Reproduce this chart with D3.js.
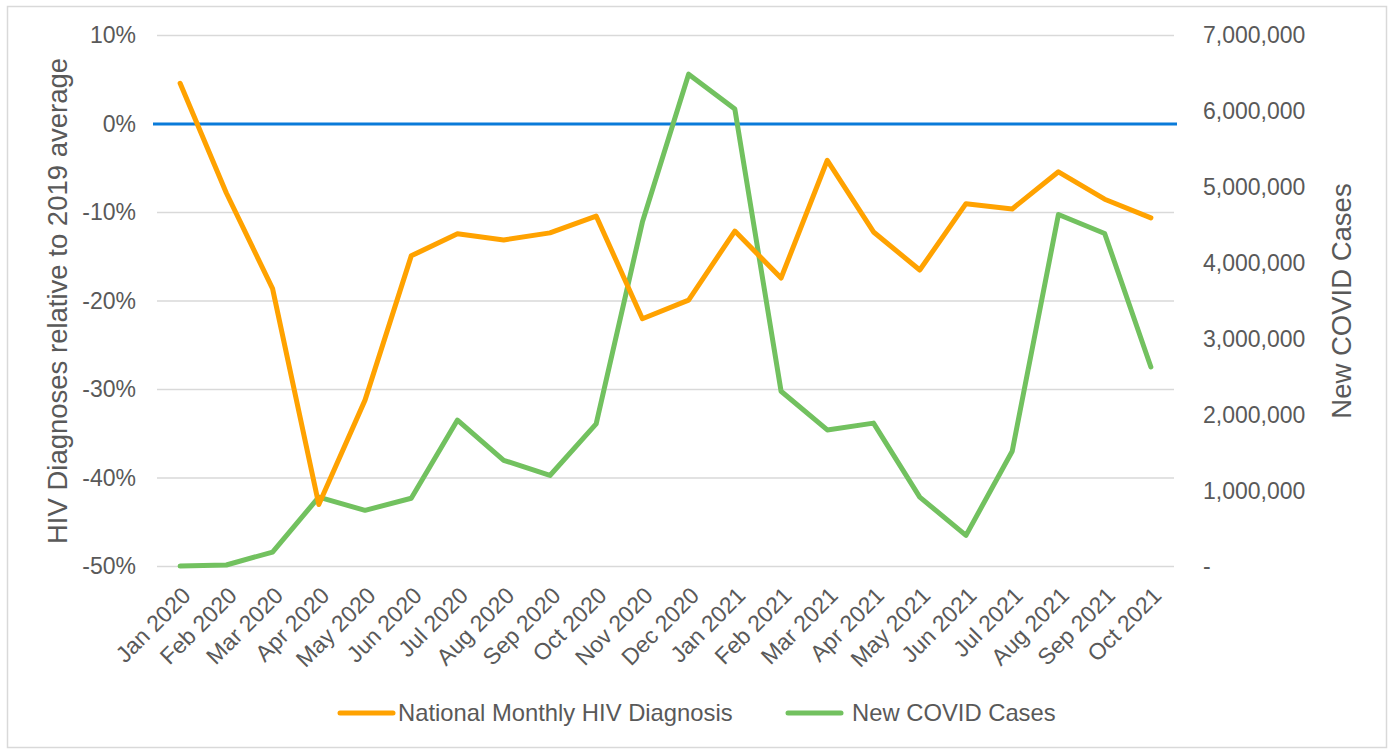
<!DOCTYPE html>
<html>
<head>
<meta charset="utf-8">
<script src="https://cdn.jsdelivr.net/npm/d3@7"></script>
<style>
  body { margin: 0; background: #fff; }
  svg { display: block; font-family: "Liberation Sans", Arial, sans-serif; }
</style>
</head>
<body>
<svg id="chart" width="1388" height="749"></svg>
<script>
var months = ['Jan 2020', 'Feb 2020', 'Mar 2020', 'Apr 2020', 'May 2020', 'Jun 2020',
    'Jul 2020', 'Aug 2020', 'Sep 2020', 'Oct 2020', 'Nov 2020', 'Dec 2020',
    'Jan 2021', 'Feb 2021', 'Mar 2021', 'Apr 2021', 'May 2021', 'Jun 2021',
    'Jul 2021', 'Aug 2021', 'Sep 2021', 'Oct 2021'];

// HIV diagnoses relative to 2019 average (fraction)
var hivChange = [0.046, -0.078, -0.186, -0.430, -0.312, -0.149,
    -0.124, -0.131, -0.123, -0.104, -0.220, -0.199,
    -0.121, -0.174, -0.041, -0.122, -0.165, -0.090,
    -0.096, -0.054, -0.085, -0.106];

// new COVID cases per month
var covidCases = [5000, 20000, 190000, 915000, 740000, 900000,
    1930000, 1400000, 1200000, 1880000, 4540000, 6490000,
    6030000, 2310000, 1800000, 1890000, 915000, 410000,
    1520000, 4640000, 4390000, 2630000];

var leftTicks = [0.1, 0, -0.1, -0.2, -0.3, -0.4, -0.5];
var rightTicks = [0, 1e6, 2e6, 3e6, 4e6, 5e6, 6e6, 7e6];

var seriesNames = ['National Monthly HIV Diagnosis', 'New COVID Cases'];

var svg = d3.select('#chart');
var textColor = '#595959';
var gridColor = '#d9d9d9';
var orange = '#ffa200';
var green = '#72c15f';
var blue = '#0a7bd9';

svg.append('rect')
    .attr('x', 7.5).attr('y', 6.5)
    .attr('width', 1379).attr('height', 741)
    .attr('fill', 'none')
    .attr('stroke', gridColor)
    .attr('stroke-width', 1.5);

var x = d3.scalePoint()
    .domain(months)
    .range([157, 1174])
    .padding(0.5);

var yLeft = d3.scaleLinear()
    .domain([-0.5, 0.1])
    .range([566.5, 35.5]);

var yRight = d3.scaleLinear()
    .domain([0, 7e6])
    .range([566.5, 35.5]);

// gridlines
svg.append('g')
    .selectAll('line')
    .data(leftTicks.filter(d => d !== 0))
    .enter()
    .append('line')
    .attr('x1', 157).attr('x2', 1174)
    .attr('y1', d => yLeft(d)).attr('y2', d => yLeft(d))
    .attr('stroke', gridColor)
    .attr('stroke-width', 1.5);

// zero line
svg.append('line')
    .attr('x1', 153).attr('x2', 1177)
    .attr('y1', yLeft(0)).attr('y2', yLeft(0))
    .attr('stroke', blue)
    .attr('stroke-width', 3);

// left axis
var leftAxis = d3.axisLeft(yLeft)
    .tickValues(leftTicks)
    .tickFormat(d3.format('.0%'))
    .tickSize(0)
    .tickPadding(0);

var gl = svg.append('g')
    .attr('transform', 'translate(136,0)')
    .call(leftAxis);
gl.select('.domain').remove();
gl.selectAll('text')
    .attr('fill', textColor)
    .attr('font-size', 23)
    .attr('font-family', '"Liberation Sans", Arial, sans-serif')
    .text(d => d3.format('.0%')(d).replace('−', '-'));

// right axis
var rightAxis = d3.axisRight(yRight)
    .tickValues(rightTicks)
    .tickFormat(d => d === 0 ? '-' : d3.format(',')(d))
    .tickSize(0)
    .tickPadding(0);

var gr = svg.append('g')
    .attr('transform', 'translate(1203,0)')
    .call(rightAxis);
gr.select('.domain').remove();
gr.selectAll('text')
    .attr('fill', textColor)
    .attr('font-size', 23)
    .attr('font-family', '"Liberation Sans", Arial, sans-serif');

// x axis labels
var bottomAxis = d3.axisBottom(x).tickSize(0).tickPadding(0);
var gb = svg.append('g')
    .call(bottomAxis);
gb.select('.domain').remove();
gb.selectAll('.tick')
    .attr('transform', d => 'translate(' + (x(d) + 12) + ',597)');
gb.selectAll('text')
    .attr('fill', textColor)
    .attr('font-size', 23)
    .attr('font-family', '"Liberation Sans", Arial, sans-serif')
    .attr('text-anchor', 'end')
    .attr('y', 0)
    .attr('dy', 0)
    .attr('transform', 'rotate(-45)');

// axis titles
svg.append('text')
    .attr('transform', 'translate(67,301) rotate(-90)')
    .attr('text-anchor', 'middle')
    .attr('fill', textColor)
    .attr('font-size', 27.5)
    .text('HIV Diagnoses relative to 2019 average');

svg.append('text')
    .attr('transform', 'translate(1351,301) rotate(-90)')
    .attr('text-anchor', 'middle')
    .attr('fill', textColor)
    .attr('font-size', 27.5)
    .text('New COVID Cases');

// series lines
var hivLine = d3.line()
    .x((d, i) => x(months[i]))
    .y(d => yLeft(d));

var covidLine = d3.line()
    .x((d, i) => x(months[i]))
    .y(d => yRight(d));

svg.append('path')
    .datum(covidCases)
    .attr('d', covidLine)
    .attr('fill', 'none')
    .attr('stroke', green)
    .attr('stroke-width', 5)
    .attr('stroke-linejoin', 'round')
    .attr('stroke-linecap', 'round');

svg.append('path')
    .datum(hivChange)
    .attr('d', hivLine)
    .attr('fill', 'none')
    .attr('stroke', orange)
    .attr('stroke-width', 5)
    .attr('stroke-linejoin', 'round')
    .attr('stroke-linecap', 'round');

// legend
var legendItems = [
    { name: seriesNames[0], color: orange, x: 340, tx: 58 },
    { name: seriesNames[1], color: green, x: 788, tx: 64 }
];

var legend = svg.append('g')
    .selectAll('g')
    .data(legendItems)
    .enter()
    .append('g')
    .attr('transform', d => 'translate(' + d.x + ',713)');

legend.append('line')
    .attr('x1', 0).attr('x2', 53)
    .attr('stroke', d => d.color)
    .attr('stroke-width', 5)
    .attr('stroke-linecap', 'round');

legend.append('text')
    .attr('x', d => d.tx)
    .attr('y', 8)
    .attr('fill', textColor)
    .attr('font-size', 23.8)
    .text(d => d.name);
</script>
</body>
</html>
